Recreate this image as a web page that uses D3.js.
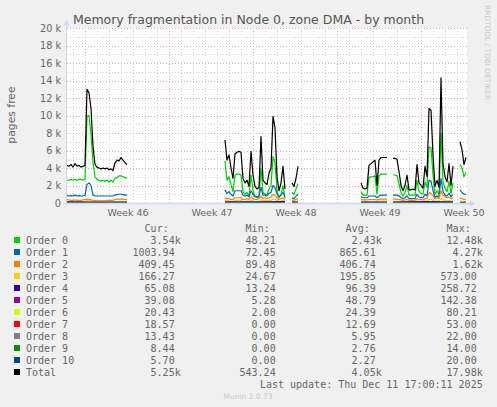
<!DOCTYPE html>
<html>
<head>
<meta charset="utf-8">
<script src="https://cdn.jsdelivr.net/npm/d3@7"></script>
<style>
  html, body { margin: 0; padding: 0; background: #f0f0f0; }
  svg { display: block; }
  text { font-family: "DejaVu Sans", sans-serif; fill: #666; }
  .mono { font-family: "DejaVu Sans Mono", monospace; font-size: 10px; white-space: pre; }
</style>
</head>
<body>
<svg id="chart" width="497" height="407"></svg>
<script>
/* data gaps: each run of samples is spread evenly between its start and end */
const segStart = ["2025-11-08T12:00Z", "2025-11-21T16:00Z", "2025-11-27T06:00Z", "2025-12-03T00:00Z", "2025-12-05T16:00Z", "2025-12-11T06:00Z"];
const segEnd   = ["2025-11-13T12:00Z", "2025-11-26T16:00Z", "2025-11-27T18:00Z", "2025-12-05T04:00Z", "2025-12-10T16:00Z", "2025-12-11T18:00Z"];

// values in thousands of pages, one list per run
const order0 = [
  [2.6,2.6,2.7,2.6,2.7,2.6,2.7,2.7,2.6,2.7,9.9,10.0,7.8,4.6,3.0,2.7,2.6,2.5,2.6,2.5,2.6,2.4,2.6,2.4,2.8,2.9,3.1,3.1,3.0,2.9,2.8],
  [4.8,2.6,3.0,2.1,1.3,3.2,3.3,3.3,3.2,1.3,1.0,1.2,0.8,3.2,1.5,0.7,0.6,0.7,4.0,1.2,1.0,0.9,1.6,2.0,5.3,4.6,1.4,0.6,1.0,2.0,0.6],
  [1.2,1.0,1.6,2.2],
  [1.3,0.9,0.9,0.9,2.9,3.0,3.0,3.1,1.0,3.1,3.3,3.3,3.3,3.3],
  [3.2,3.2,3.1,2.2,1.2,0.8,1.2,2.0,0.9,0.9,0.9,0.9,2.6,1.3,1.1,1.0,2.4,1.8,6.4,6.3,3.2,1.0,1.4,0.9,8.0,2.4,1.7,1.3,2.5,1.1,2.3],
  [4.4,4.0,3.0,3.5]
];
const order1 = [
  [0.85,0.8,0.85,0.8,0.9,0.8,0.85,0.8,0.8,0.9,2.1,2.3,2.0,0.9,0.8,0.8,0.8,0.8,0.8,0.8,0.8,0.8,0.8,0.8,0.9,0.95,1.0,1.0,0.95,0.9,0.9],
  [1.5,1.1,1.3,1.0,0.8,1.4,1.4,1.4,1.4,0.9,0.8,0.9,0.7,1.4,1.0,0.8,0.7,0.8,1.8,0.9,0.9,0.8,1.1,1.2,2.0,1.8,1.0,0.7,0.9,1.2,0.7],
  [0.6,0.5,0.8,1.0],
  [0.7,0.6,0.6,0.6,0.8,0.8,0.8,0.8,0.6,0.8,0.9,0.9,0.9,0.9],
  [0.9,0.9,0.9,0.8,0.6,0.5,0.6,0.8,0.5,0.5,0.5,0.5,1.0,0.7,0.6,0.6,1.0,0.8,2.6,2.5,1.4,0.6,0.8,0.7,2.8,1.3,0.9,0.8,1.1,0.7,1.0],
  [1.5,1.2,1.0,1.0]
];
const order2 = [
  [0.4,0.35,0.3,0.3,0.35,0.3,0.3,0.3,0.35,0.4,0.45,0.4,0.35,0.3,0.3,0.25,0.25,0.25,0.25,0.25,0.3,0.3,0.3,0.3,0.4,0.45,0.45,0.45,0.45,0.4,0.4],
  [0.6,0.5,0.5,0.4,0.4,0.6,0.6,0.6,0.6,0.4,0.4,0.5,0.4,0.7,0.5,0.4,0.4,0.5,0.8,0.5,0.6,0.5,0.6,0.7,1.0,0.9,0.6,0.4,0.5,0.6,0.4],
  [0.35,0.3,0.4,0.5],
  [0.4,0.35,0.35,0.35,0.4,0.4,0.4,0.4,0.35,0.4,0.45,0.45,0.45,0.45],
  [0.45,0.45,0.45,0.4,0.35,0.3,0.35,0.4,0.3,0.3,0.3,0.3,0.5,0.4,0.4,0.35,0.5,0.5,1.2,1.1,0.8,0.5,0.6,0.5,1.4,0.9,0.7,0.6,0.7,0.5,0.6],
  [0.6,0.5,0.4,0.41]
];
const order3 = [
  [0.2,0.18,0.15,0.15,0.17,0.15,0.15,0.15,0.17,0.2,0.3,0.3,0.25,0.18,0.15,0.12,0.12,0.12,0.12,0.12,0.14,0.14,0.14,0.14,0.18,0.2,0.2,0.2,0.2,0.18,0.18],
  [0.3,0.3,0.25,0.2,0.2,0.3,0.3,0.3,0.3,0.2,0.2,0.25,0.2,0.3,0.25,0.2,0.2,0.2,0.35,0.25,0.3,0.25,0.3,0.3,0.4,0.4,0.3,0.2,0.2,0.3,0.2],
  [0.2,0.15,0.2,0.25],
  [0.2,0.18,0.18,0.18,0.2,0.2,0.2,0.2,0.18,0.2,0.22,0.22,0.22,0.22],
  [0.2,0.2,0.2,0.2,0.15,0.15,0.15,0.2,0.15,0.15,0.15,0.15,0.25,0.2,0.2,0.15,0.25,0.2,0.4,0.4,0.3,0.2,0.25,0.2,0.5,0.35,0.3,0.25,0.3,0.2,0.25],
  [0.25,0.2,0.17,0.17]
];
const order4  = [[0.12,0.1,0.1],[0.14,0.12,0.15],[0.1,0.1],[0.09,0.1],[0.1,0.15,0.12],[0.08,0.065]];
const order5  = [[0.06,0.05,0.05],[0.07,0.06,0.08],[0.05,0.05],[0.05,0.05],[0.05,0.08,0.06],[0.045,0.04]];
const order6  = [[0.03,0.025,0.03],[0.035,0.03,0.04],[0.02,0.02],[0.02,0.02],[0.025,0.04,0.03],[0.022,0.02]];
const order7  = [[0.015,0.012],[0.02,0.015],[0.01,0.01],[0.01,0.01],[0.012,0.02],[0.019,0.019]];
const order8  = [[0.006,0.005],[0.008,0.006],[0.004,0.004],[0.004,0.005],[0.006,0.01],[0.013,0.013]];
const order9  = [[0.002,0.002],[0.004,0.003],[0.002,0.002],[0.002,0.002],[0.003,0.005],[0.008,0.008]];
const order10 = [[0.002,0.002],[0.003,0.002],[0.001,0.001],[0.002,0.002],[0.002,0.004],[0.006,0.006]];
const total = [
  [4.3,4.2,4.4,4.1,4.5,4.2,4.3,4.1,4.2,4.3,13.0,12.6,10.8,6.5,4.4,4.1,4.0,3.9,4.0,3.9,4.0,3.8,3.9,3.7,4.6,4.9,4.8,5.2,4.9,4.6,4.4],
  [7.2,4.9,5.5,4.0,2.8,5.6,5.8,5.9,5.8,2.8,2.3,2.6,1.9,5.9,3.2,1.9,1.6,1.8,7.6,2.6,2.3,2.1,3.4,4.0,9.9,8.6,3.0,1.4,2.3,4.2,1.6],
  [2.3,1.9,2.8,4.2],
  [2.3,1.7,1.6,1.7,4.3,4.5,4.7,4.9,2.0,4.9,5.2,5.2,5.2,5.2],
  [5.1,5.1,5.0,3.6,2.0,1.4,2.0,3.2,1.5,1.5,1.6,1.5,4.4,2.3,2.0,1.7,4.2,3.0,10.8,10.6,5.5,1.9,2.6,1.8,14.3,4.5,3.0,2.4,4.5,2.0,4.2],
  [7.0,6.1,4.4,5.2]
];

const names  = ["Order 0","Order 1","Order 2","Order 3","Order 4","Order 5","Order 6","Order 7","Order 8","Order 9","Order 10","Total"];
const colors = ["#00cc00","#0066b3","#ff8000","#ffcc00","#330099","#990099","#ccff00","#ff0000","#808080","#008f00","#00487d","#000000"];
const curVals = ["3.54k","1003.94","409.45","166.27","65.08","39.08","20.43","18.57","13.43","8.44","5.70","5.25k"];
const minVals = ["48.21","72.45","89.48","24.67","13.24","5.28","2.00","0.00","0.00","0.00","0.00","543.24"];
const avgVals = ["2.43k","865.61","406.74","195.85","96.39","48.79","24.39","12.69","5.95","2.76","2.27","4.05k"];
const maxVals = ["12.48k","4.27k","1.62k","573.00","258.72","142.38","80.21","53.00","22.00","14.00","20.00","17.98k"];
const yTicks = [0, 2, 4, 6, 8, 10, 12, 14, 16, 18, 20];

const series = [order0, order1, order2, order3, order4, order5, order6, order7, order8, order9, order10, total];

const svg = d3.select("#chart");
const L = 67, R = 467, T = 28, B = 203;
const tEnd = new Date("2025-12-11T20:00Z");
const tBeg = new Date(+tEnd - 800 * 3600e3);
const x = d3.scaleUtc().domain([tBeg, tEnd]).range([L, R]);
const y = d3.scaleLinear().domain([0, 20]).range([B, T]);

svg.append("text").attr("x", 248.5).attr("y", 24).attr("text-anchor", "middle")
  .style("font-size", "12.5px").style("fill", "#555")
  .text("Memory fragmentation in Node 0, zone DMA - by month");

svg.append("text").attr("transform", "translate(14.5,115) rotate(-90)")
  .attr("text-anchor", "middle").style("font-size", "10.8px").text("pages free");

svg.append("text").attr("transform", "translate(485,5) rotate(90)")
  .style("font-size", "7.4px").style("fill", "#c8c8c8").text("RRDTOOL / TOBI OETIKER");

svg.append("rect").attr("x", L).attr("y", T).attr("width", R - L).attr("height", B - T).attr("fill", "#fff");

// grid
const g = svg.append("g");
const mondays = d3.utcMonday.range(tBeg, tEnd);
const days = d3.utcDay.range(tBeg, tEnd).filter((d) => d.getUTCDay() !== 1);
g.selectAll(".vmin").data(days).join("line")
  .attr("x1", (d) => Math.round(x(d)) + 0.5).attr("x2", (d) => Math.round(x(d)) + 0.5)
  .attr("y1", T).attr("y2", B).attr("stroke", "#d4d4d4").attr("stroke-dasharray", "1,2");
g.selectAll(".hmin").data(d3.range(1, 20, 2)).join("line")
  .attr("x1", L).attr("x2", R).attr("y1", (d) => Math.round(y(d)) + 0.5).attr("y2", (d) => Math.round(y(d)) + 0.5)
  .attr("stroke", "#d4d4d4").attr("stroke-dasharray", "1,2");
g.selectAll(".vmaj").data(mondays).join("line")
  .attr("x1", (d) => Math.round(x(d)) + 0.5).attr("x2", (d) => Math.round(x(d)) + 0.5)
  .attr("y1", T).attr("y2", B).attr("stroke", "#e8a8a8").attr("stroke-dasharray", "1,2");
g.selectAll(".hmaj").data(yTicks.filter((v) => v > 0)).join("line")
  .attr("x1", L).attr("x2", R).attr("y1", (d) => Math.round(y(d)) + 0.5).attr("y2", (d) => Math.round(y(d)) + 0.5)
  .attr("stroke", "#e8a8a8").attr("stroke-dasharray", "1,2");

// tick labels
svg.selectAll(".yl").data(yTicks).join("text")
  .attr("x", 61).attr("y", (d) => y(d) + 3.5).attr("text-anchor", "end")
  .style("font-size", "9.7px").text((d) => (d === 0 ? "0" : d + " k"));
const wk = d3.utcFormat("%V");
svg.selectAll(".xl").data(mondays).join("text")
  .attr("x", (d) => x(d3.utcHour.offset(d, 84)) + 1).attr("y", 216).attr("text-anchor", "middle")
  .style("font-size", "9.5px").text((d) => "Week " + wk(d));

// lines
const line = d3.line().x((d) => x(d.t)).y((d) => y(d.v));
series.forEach((s, k) => {
  s.forEach((vals, j) => {
    const a = new Date(segStart[j]), b = new Date(segEnd[j]);
    const pts = vals.map((v, i) => ({ t: new Date(+a + (i * (b - a)) / (vals.length - 1)), v }));
    svg.append("path").attr("d", line(pts)).attr("fill", "none")
      .attr("stroke", colors[k]).attr("stroke-width", 1.2).attr("stroke-linejoin", "round");
  });
});

// axes with arrows, on top of the data like rrdtool
const ax = "#cfd6f8";
svg.append("line").attr("x1", L - 0.5).attr("x2", L - 0.5).attr("y1", B + 2).attr("y2", T - 4).attr("stroke", ax);
svg.append("path").attr("d", `M${L - 3.5},${T - 3}L${L + 2.5},${T - 3}L${L - 0.5},${T - 8}Z`).attr("fill", ax);
svg.append("line").attr("x1", L - 3).attr("x2", R + 4).attr("y1", B + 0.5).attr("y2", B + 0.5).attr("stroke", ax).attr("stroke-width", 1.4);
svg.append("path").attr("d", `M${R + 3},${B - 2.5}L${R + 3},${B + 3.5}L${R + 8},${B + 0.5}Z`).attr("fill", ax);

// legend
const leg = svg.append("g");
const colRight = [180.7, 281.7, 381.7, 482.7];
["Cur:", "Min:", "Avg:", "Max:"].forEach((h, i) =>
  leg.append("text").attr("class", "mono").attr("x", colRight[i] - 12).attr("y", 231.5)
    .attr("text-anchor", "end").text(h));
const pad = (s) => (s.endsWith("k") ? s : s + "\u00a0");
names.forEach((n, i) => {
  const yy = 243.5 + i * 12;
  leg.append("rect").attr("x", 14).attr("y", yy - 6.5).attr("width", 6).attr("height", 6).attr("fill", colors[i]);
  leg.append("text").attr("class", "mono").attr("x", 26).attr("y", yy).text(n);
  [curVals, minVals, avgVals, maxVals].forEach((arr, c) =>
    leg.append("text").attr("class", "mono").attr("x", colRight[c]).attr("y", yy)
      .attr("text-anchor", "end").text(pad(arr[i])));
});
leg.append("text").attr("class", "mono").attr("x", 482.7).attr("y", 387.5).attr("text-anchor", "end")
  .text("Last update: Thu Dec 11 17:00:11 2025");
svg.append("text").attr("x", 248).attr("y", 398.5).attr("text-anchor", "middle")
  .style("font-size", "7.5px").style("fill", "#c8c8c8").text("Munin 2.0.73");
</script>
</body>
</html>
